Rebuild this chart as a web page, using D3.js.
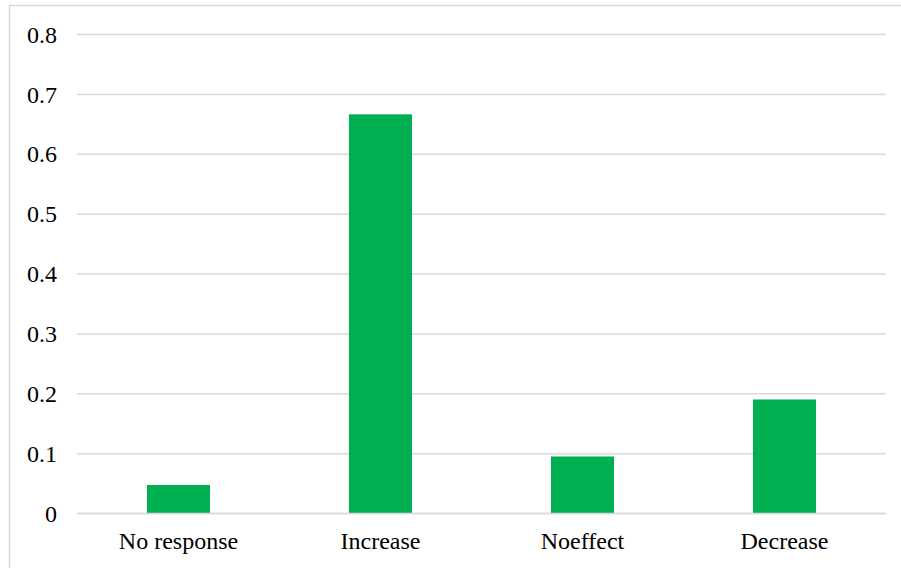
<!DOCTYPE html>
<html>
<head>
<meta charset="utf-8">
<script src="https://cdn.jsdelivr.net/npm/d3@7"></script>
<style>
  html, body { margin: 0; padding: 0; background: #fff; }
  svg { display: block; }
  text { font-family: "Liberation Serif", "Times New Roman", serif; fill: #000; }
</style>
</head>
<body>
<svg id="chart" width="901" height="568"></svg>
<script>
// Share of responses per category
const categories = ["No response", "Increase", "Noeffect", "Decrease"];
const values = [1 / 21, 14 / 21, 2 / 21, 4 / 21];
const yTicks = [0, 0.1, 0.2, 0.3, 0.4, 0.5, 0.6, 0.7, 0.8];
const yTickLabels = ["0", "0.1", "0.2", "0.3", "0.4", "0.5", "0.6", "0.7", "0.8"];

const svg = d3.select("#chart");
const W = 901, H = 568;
const plot = { left: 77, right: 886, top: 34.5, bottom: 513.5 };

// Chart area frame
svg.append("rect")
  .attr("x", 9.5).attr("y", 5.5)
  .attr("width", W + 10).attr("height", H + 10)
  .attr("fill", "#fff")
  .attr("stroke", "#d9d9d9")
  .attr("stroke-width", 1.5);

const x = d3.scaleBand()
  .domain(categories)
  .range([plot.left + 0.5, plot.right - 0.5])
  .paddingInner(0.688)
  .paddingOuter(0.344);

const y = d3.scaleLinear()
  .domain([0, 0.8])
  .range([plot.bottom, plot.top]);

// Horizontal gridlines
svg.append("g")
  .selectAll("line")
  .data(yTicks)
  .join("line")
  .attr("x1", plot.left).attr("x2", plot.right)
  .attr("y1", d => y(d)).attr("y2", d => y(d))
  .attr("stroke", "#d9d9d9")
  .attr("stroke-width", 1.5);

// Y axis labels
const yAxis = d3.axisLeft(y)
  .tickValues(yTicks)
  .tickFormat((d, i) => yTickLabels[i])
  .tickSize(0)
  .tickPadding(20);
const gy = svg.append("g")
  .attr("transform", `translate(${plot.left},0)`)
  .call(yAxis);
gy.select(".domain").remove();
gy.selectAll("text")
  .attr("font-family", "Liberation Serif, Times New Roman, serif")
  .attr("font-size", 24)
  .attr("fill", "#000");

// Bars
svg.append("g")
  .selectAll("rect")
  .data(categories)
  .join("rect")
  .attr("x", d => x(d))
  .attr("width", x.bandwidth())
  .attr("y", (d, i) => y(values[i]))
  .attr("height", (d, i) => y(0) - y(values[i]))
  .attr("fill", "#00b050");

// Baseline redrawn on top of bars
svg.append("line")
  .attr("x1", plot.left).attr("x2", plot.right)
  .attr("y1", y(0)).attr("y2", y(0))
  .attr("stroke", "#d9d9d9")
  .attr("stroke-width", 1.5);

// X axis labels
const xAxis = d3.axisBottom(x).tickSize(0).tickPadding(18);
const gx = svg.append("g")
  .attr("transform", `translate(0,${plot.bottom})`)
  .call(xAxis);
gx.select(".domain").remove();
gx.selectAll("text")
  .attr("font-family", "Liberation Serif, Times New Roman, serif")
  .attr("font-size", 24)
  .attr("fill", "#000");
</script>
</body>
</html>
